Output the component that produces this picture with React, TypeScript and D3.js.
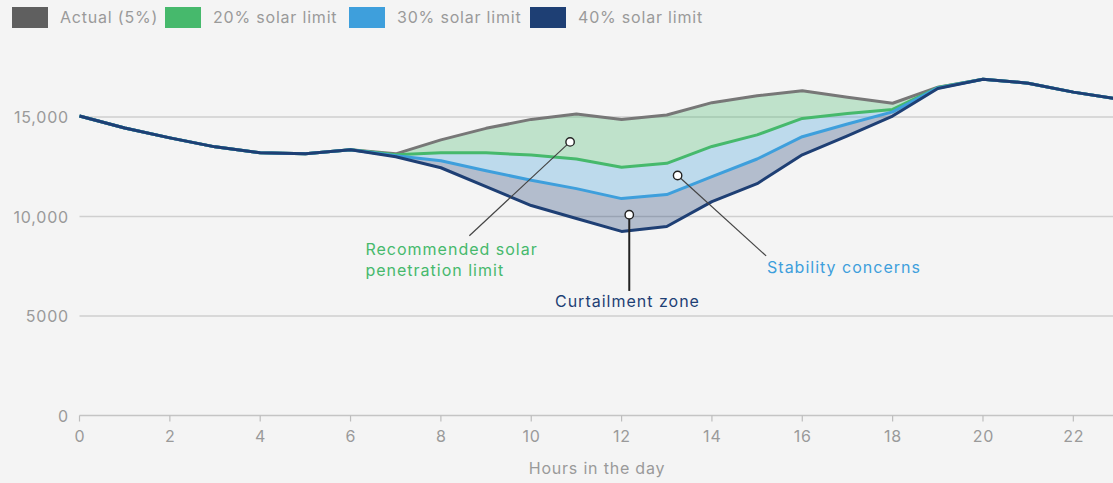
import React from "react";
import * as d3 from "d3";

// Hourly electricity demand under different solar penetration limits
const hours = d3.range(0, 24);
const actual = [15050, 14450, 13950, 13500, 13200, 13150, 13350, 13150, 13850, 14430, 14880, 15150, 14880, 15100, 15720, 16070, 16320, 15990, 15690, 16500, 16900, 16700, 16250, 15900];
const limit20 = [15050, 14450, 13950, 13500, 13200, 13150, 13350, 13100, 13200, 13200, 13090, 12890, 12470, 12670, 13520, 14100, 14930, 15180, 15380, 16480, 16900, 16700, 16250, 15900];
const limit30 = [15050, 14450, 13950, 13500, 13200, 13150, 13350, 13050, 12800, 12300, 11820, 11400, 10900, 11100, 12000, 12890, 14010, 14650, 15260, 16460, 16900, 16700, 16250, 15900];
const limit40 = [15050, 14450, 13950, 13500, 13200, 13150, 13350, 13000, 12450, 11500, 10550, 9900, 9250, 9500, 10750, 11650, 13100, 14050, 15050, 16430, 16900, 16700, 16250, 15900];

const legendLabels = ["Actual (5%)", "20% solar limit", "30% solar limit", "40% solar limit"];
const yTicks = [0, 5000, 10000, 15000];
const xTicks = d3.range(0, 24, 2);
const xTitle = "Hours in the day";

const COLORS = {
  actual: "#777777",
  g20: "#46b96c",
  b30: "#3e9fdc",
  n40: "#1e3f74",
};
const legendColors = ["#5f5f5f", COLORS.g20, COLORS.b30, COLORS.n40];

const W = 1113;
const H = 483;
const FONT = "Inter, 'Noto Sans', sans-serif";
const SPACING = 0.8;

const x = d3.scaleLinear().domain([0, 23]).range([79.5, 1118.5]);
const y = d3.scaleLinear().domain([0, 15000]).range([415.5, 117]);

type Pt = { h: number; v: number };
const toPts = (vals: number[]): Pt[] => hours.map((h, i) => ({ h, v: vals[i] }));

const line = d3
  .line<Pt>()
  .x((d) => x(d.h))
  .y((d) => y(d.v));

const band = (upper: number[], lower: number[]) =>
  d3
    .area<number>()
    .x((h) => x(h))
    .y0((h) => y(lower[h]))
    .y1((h) => y(upper[h]))(hours) || "";

// Callouts: marker position in data units, label anchor in data units
const callouts = [
  {
    lines: ["Recommended solar", "penetration limit"],
    color: COLORS.g20,
    at: { h: 10.86, v: 13750 },
    end: { h: 8.63, v: 9030 },
    label: { h: 6.33, v: 8085 },
    anchor: "start",
  },
  {
    lines: ["Curtailment zone"],
    color: COLORS.n40,
    at: { h: 12.17, v: 10090 },
    end: { h: 12.17, v: 6260 },
    label: { h: 12.13, v: 5475 },
    anchor: "middle",
  },
  {
    lines: ["Stability concerns"],
    color: COLORS.b30,
    at: { h: 13.24, v: 12060 },
    end: { h: 15.2, v: 8020 },
    label: { h: 15.22, v: 7170 },
    anchor: "start",
  },
];

export default function App() {
  React.useEffect(() => {
    document.body.style.margin = "0";
    document.body.style.background = "#f4f4f4";
  }, []);

  const legendX = [12, 165, 349, 530];

  return (
    <svg
      width={W}
      height={H}
      style={{ display: "block", background: "#f4f4f4", fontFamily: FONT, letterSpacing: SPACING }}
    >
      {/* legend */}
      {legendLabels.map((lab, i) => (
        <g key={lab} transform={`translate(${legendX[i]},7)`}>
          <rect width={36} height={21} fill={legendColors[i]} />
          <text x={48} y={16} fontSize={16} fill="#9a9a9a">
            {lab}
          </text>
        </g>
      ))}

      {/* gridlines */}
      {yTicks.map((t) => (
        <g key={t}>
          {t > 0 && (
            <line x1={x(0)} x2={W} y1={y(t)} y2={y(t)} stroke="#cfcfcf" strokeWidth={1.5} />
          )}
          <text x={69} y={y(t) + 6} textAnchor="end" fontSize={16} fill="#9a9a9a">
            {t >= 10000 ? d3.format(",")(t) : String(t)}
          </text>
        </g>
      ))}

      {/* x axis */}
      <line x1={x(0)} x2={W} y1={y(0)} y2={y(0)} stroke="#c4c4c4" strokeWidth={1.5} />
      {xTicks.map((t) => (
        <g key={t}>
          <line x1={x(t)} x2={x(t)} y1={y(0)} y2={y(0) + 6} stroke="#bdbdbd" strokeWidth={1.2} />
          <text x={x(t) + SPACING / 2} y={442} textAnchor="middle" fontSize={16} fill="#9a9a9a">
            {t}
          </text>
        </g>
      ))}
      <text x={597} y={474} textAnchor="middle" fontSize={16} fill="#9a9a9a">
        {xTitle}
      </text>

      {/* bands between scenarios */}
      <path d={band(actual, limit20)} fill={COLORS.g20} fillOpacity={0.3} />
      <path d={band(limit20, limit30)} fill={COLORS.b30} fillOpacity={0.3} />
      <path d={band(limit30, limit40)} fill={COLORS.n40} fillOpacity={0.3} />

      {/* scenario lines */}
      {[
        [actual, COLORS.actual],
        [limit20, COLORS.g20],
        [limit30, COLORS.b30],
        [limit40, COLORS.n40],
      ].map(([vals, c], i) => (
        <path
          key={i}
          d={line(toPts(vals as number[])) || ""}
          fill="none"
          stroke={c as string}
          strokeWidth={3}
          strokeLinejoin="round"
        />
      ))}

      {/* callouts */}
      {callouts.map((c, i) => (
        <g key={i}>
          <line
            x1={x(c.at.h)}
            y1={y(c.at.v)}
            x2={x(c.end.h)}
            y2={y(c.end.v)}
            stroke={i === 1 ? "#222" : "#444"}
            strokeWidth={i === 1 ? 2 : 1.2}
          />
          <circle cx={x(c.at.h)} cy={y(c.at.v)} r={4.2} fill="#fff" stroke="#222" strokeWidth={1.4} />
          <text
            x={x(c.label.h)}
            y={y(c.label.v)}
            textAnchor={c.anchor as any}
            fontSize={16}
            fill={c.color}
            letterSpacing={1}
          >
            {c.lines.map((l, j) => (
              <tspan key={j} x={x(c.label.h)} dy={j === 0 ? 0 : 21}>
                {l}
              </tspan>
            ))}
          </text>
        </g>
      ))}
    </svg>
  );
}
